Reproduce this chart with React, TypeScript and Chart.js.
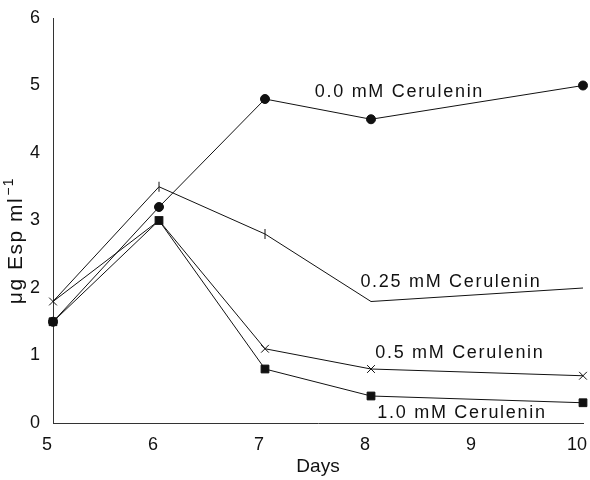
import React, { useEffect, useRef } from "react";
import { Chart, registerables } from "chart.js";

Chart.register(...registerables);

const days = [5, 6, 7, 8, 10];
const cer00 = [1.5, 3.2, 4.8, 4.5, 5.0];
const cer025 = [1.8, 3.5, 2.8, 1.8, 2.0];
const cer05 = [1.8, 3.0, 1.1, 0.8, 0.7];
const cer10 = [1.5, 3.0, 0.8, 0.4, 0.3];
const seriesLabels = ["0.0 mM Cerulenin", "0.25 mM Cerulenin", "0.5 mM Cerulenin", "1.0 mM Cerulenin"];
const labelAnchors = [
  { x: 7.47, y: 4.9 },
  { x: 7.9, y: 2.09 },
  { x: 8.04, y: 1.04 },
  { x: 8.06, y: 0.15 },
];
const yTitleMain = "μg Esp ml";
const yTitleSup = "−1";

const FONT = "'Liberation Sans', Arial, Helvetica, sans-serif";
const INK = "#111";

const labelPlugin = {
  id: "seriesLabels",
  afterDatasetsDraw(chart: any) {
    const { ctx, scales, chartArea } = chart;
    ctx.save();
    ctx.font = `18px ${FONT}`;
    ctx.fillStyle = INK;
    ctx.textAlign = "left";
    ctx.textBaseline = "middle";
    try {
      (ctx as any).letterSpacing = "1.7px";
    } catch (e) {}
    seriesLabels.forEach((t, i) => {
      const a = labelAnchors[i];
      ctx.fillText(t, scales.x.getPixelForValue(a.x), scales.y.getPixelForValue(a.y));
    });
    ctx.restore();

    // y-axis title with superscript
    ctx.save();
    const cx = 16;
    const cy = (chartArea.top + chartArea.bottom) / 2 + 20;
    ctx.translate(cx, cy);
    ctx.rotate(-Math.PI / 2);
    ctx.fillStyle = INK;
    ctx.textBaseline = "middle";
    ctx.textAlign = "left";
    try {
      (ctx as any).letterSpacing = "1.5px";
    } catch (e) {}
    ctx.font = `21px ${FONT}`;
    const wMain = ctx.measureText(yTitleMain).width;
    ctx.font = `14px ${FONT}`;
    const wSup = ctx.measureText(yTitleSup).width;
    const total = wMain + wSup + 1;
    let x0 = -total / 2;
    ctx.font = `21px ${FONT}`;
    ctx.fillText(yTitleMain, x0, 0);
    ctx.font = `14px ${FONT}`;
    ctx.fillText(yTitleSup, x0 + wMain + 1, -7);
    ctx.restore();
  },
};

const pts = (ys: number[]) => days.map((d, i) => ({ x: d, y: ys[i] }));

export default function App() {
  const ref = useRef<HTMLCanvasElement>(null);
  useEffect(() => {
    document.body.style.margin = "0";
    const common = {
      borderColor: INK,
      backgroundColor: INK,
      pointBorderColor: INK,
      pointBackgroundColor: INK,
      borderWidth: 1,
      tension: 0,
      pointBorderWidth: 1,
      clip: false,
    };
    const chart = new Chart(ref.current!, {
      type: "line",
      data: {
        datasets: [
          { ...common, label: seriesLabels[0], data: pts(cer00), pointStyle: "circle", pointRadius: 4.5 },
          {
            ...common,
            label: seriesLabels[1],
            data: pts(cer025),
            pointStyle: "line",
            pointRotation: 90,
            pointRadius: [0, 5, 5, 0, 0],
          },
          { ...common, label: seriesLabels[2], data: pts(cer05), pointStyle: "crossRot", pointRadius: 5.5 },
          { ...common, label: seriesLabels[3], data: pts(cer10), pointStyle: "rect", pointRadius: 5.5 },
        ] as any,
      },
      options: {
        animation: false,
        responsive: false,
        maintainAspectRatio: false,
        layout: { padding: { left: 0, right: 7, top: 18, bottom: 0 } },
        plugins: { legend: { display: false }, tooltip: { enabled: false } },
        scales: {
          x: {
            type: "linear",
            min: 5,
            max: 10,
            grid: { display: false },
            border: { display: true, color: "#333", width: 1 },
            ticks: {
              stepSize: 1,
              color: INK,
              font: { family: FONT, size: 18 },
              padding: 3,
              labelOffset: -6,
              maxRotation: 0,
            },
            title: {
              display: true,
              text: "Days",
              color: INK,
              font: { family: FONT, size: 19 },
              padding: { top: 0, bottom: 2 },
            },
            afterFit: (s: any) => {
              s.height = 57;
              s.paddingLeft = 0;
              s.paddingRight = 0;
            },
          },
          y: {
            min: 0,
            max: 6,
            grid: { display: false },
            border: { display: true, color: "#333", width: 1 },
            ticks: {
              stepSize: 1,
              color: INK,
              font: { family: FONT, size: 18 },
              padding: 5,
            },
            title: { display: false },
            afterFit: (s: any) => {
              s.width = 53;
              s.paddingTop = 0;
              s.paddingBottom = 0;
            },
          },
        },
      },
      plugins: [labelPlugin],
    });
    return () => chart.destroy();
  }, []);
  return (
    <div style={{ width: 590, height: 480 }}>
      <canvas ref={ref} width={590} height={480} style={{ display: "block" }} />
    </div>
  );
}
